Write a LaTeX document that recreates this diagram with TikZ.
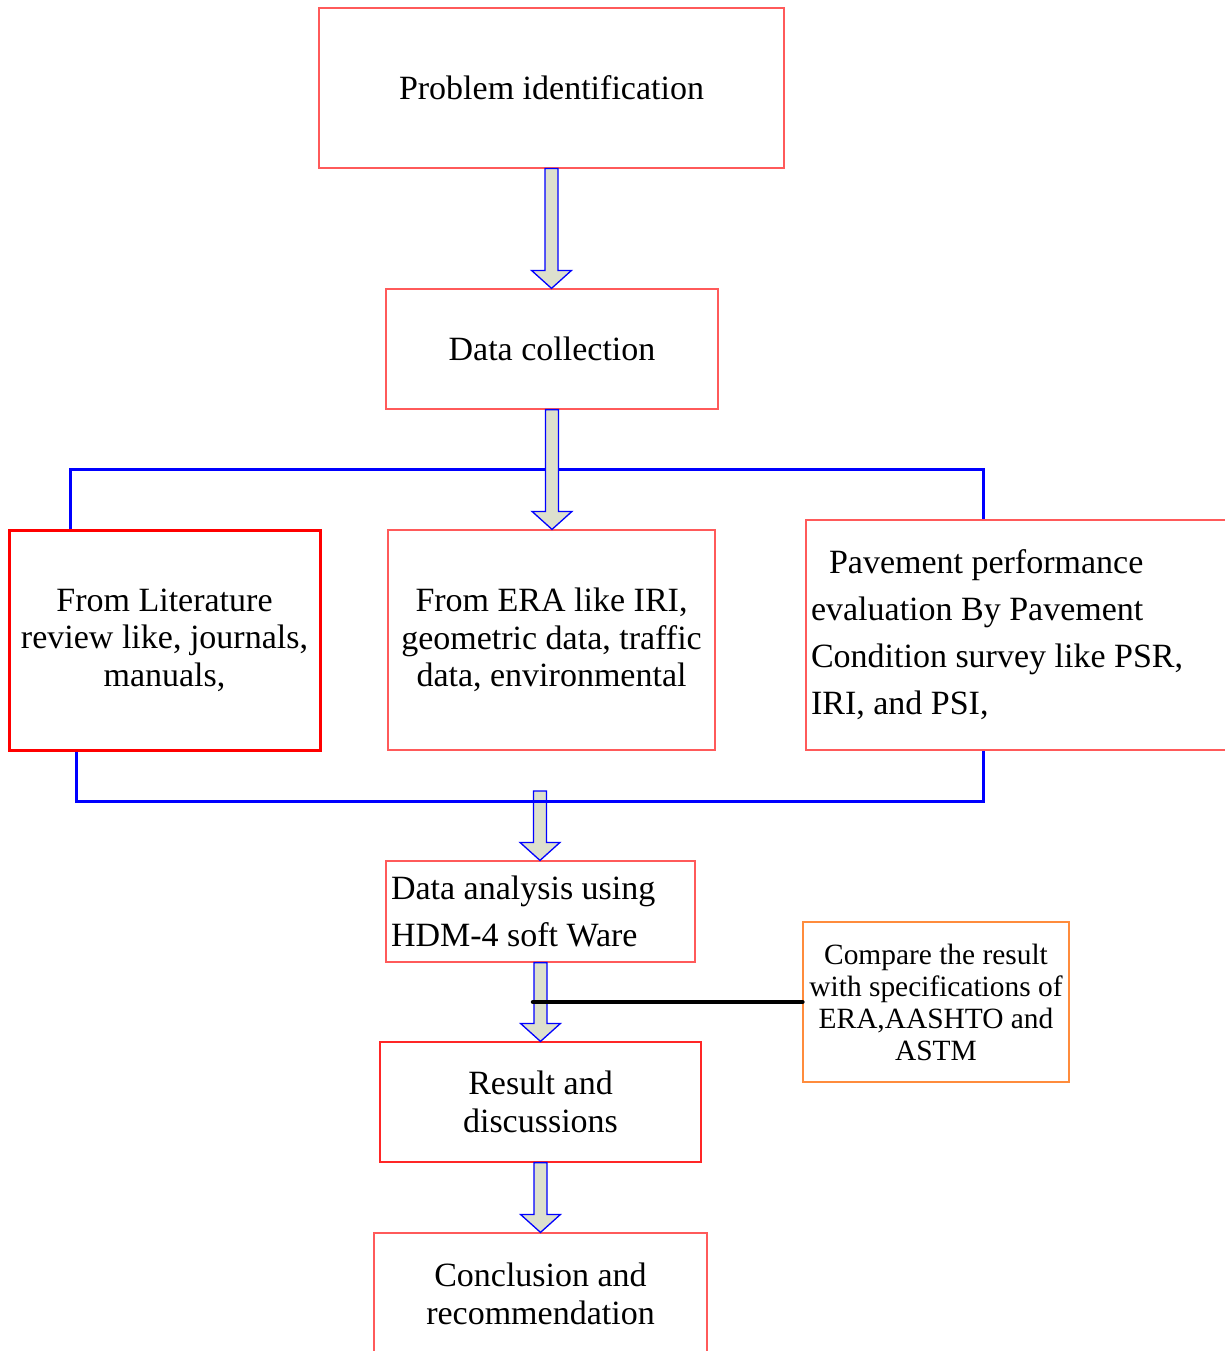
\documentclass[tikz,border=0pt]{standalone}
\usepackage{fontspec}
\setmainfont{Liberation Serif}
\usetikzlibrary{calc}
\definecolor{boxred}{RGB}{255,90,90}
\definecolor{cmporange}{RGB}{255,140,60}
\definecolor{arrowfill}{RGB}{221,224,205}
\tikzset{
  box/.style={draw=boxred, line width=1.2pt, inner sep=0pt, align=center,
    font=\fontsize{34}{37.5}\selectfont},
  litbox/.style={box, draw=red, line width=3pt},
  fatarrow/.style={fill=arrowfill, draw=blue, line width=1.3pt, line join=miter},
  blueline/.style={draw=blue, line width=3pt},
  blackline/.style={draw=black, line width=4.5pt, line cap=round},
}
\newcommand\fatarr[2]{%
  \filldraw[fatarrow] let \p1=(#1), \p2=(#2) in
  (\x1-6.5pt,\y1) -- (\x1+6.5pt,\y1) -- (\x1+6.5pt,\y2+18pt) -- (\x1+20pt,\y2+18pt)
  -- (\x1,\y2) -- (\x1-20pt,\y2+18pt) -- (\x1-6.5pt,\y2+18pt) -- cycle;}
\begin{document}
\begin{tikzpicture}[x=1pt,y=-1pt]
\useasboundingbox (0,0) rectangle (1225,1351);
% boxes
\node[box, minimum width=465pt, minimum height=160pt] (prob) at (551.5,88) {Problem identification};
\node[box, minimum width=332pt, minimum height=120pt] (dc) at (552,349) {Data collection};
\node[litbox, minimum width=311pt, minimum height=220pt] (lit) at (164.5,640)
  {From Literature\\review like, journals,\\manuals,};
\node[box, minimum width=327pt, minimum height=220pt] (era) at (551.5,640)
  {From ERA like IRI,\\geometric data, traffic\\data, environmental};
\node[box, minimum height=230pt, text width=424pt, inner xsep=5pt, align=flush left,
  font=\fontsize{34}{47}\selectfont] (pav) at (1023,635)
  {\raisebox{0pt}[\height][\dimexpr\depth+6pt]{}\hspace*{18pt}Pavement performance\\evaluation By Pavement\\Condition survey like PSR,\\IRI, and PSI,};
\node[box, minimum height=101pt, text width=299pt, inner xsep=5pt, align=flush left,
  font=\fontsize{34}{47}\selectfont] (ana) at (540.5,911.5)
  {Data analysis using\\HDM-4 soft Ware};
\node[box, draw=cmporange, minimum width=266pt, minimum height=160pt,
  font=\fontsize{29.4}{32}\selectfont] (cmp) at (936,1002)
  {Compare the result\\with specifications of\\ERA,AASHTO and\\ASTM};
\node[box, draw=red!85!white, minimum width=321pt, minimum height=120pt] (res) at (540.5,1102)
  {Result and\\discussions};
\node[box, minimum width=333pt, minimum height=122pt] (con) at (540.5,1294)
  {Conclusion and\\recommendation};
% coordinates
\coordinate (tl) at (70,469);
\coordinate (tr) at (983,469);
\coordinate (bl) at (76,801);
\coordinate (br) at (983,801);
\coordinate (a3) at (540,791);
\coordinate (blk) at (533,1002);
% connectors
\draw[blueline] (lit.north -| tl) -- (tl) -- (era.north |- tl);
\draw[blueline] (era.north |- tl) -- (tr) -- (pav.north -| tr);
\fatarr{prob.south}{dc.north}
\fatarr{dc.south}{era.north}
\fatarr{a3}{ana.north}
\draw[blueline] (lit.south -| bl) -- (bl) -- (br) -- (pav.south -| br);
\fatarr{ana.south}{res.north}
\fatarr{res.south}{con.north}
\draw[blackline] (cmp.west) -- (cmp.west -| blk);
\end{tikzpicture}
\end{document}
